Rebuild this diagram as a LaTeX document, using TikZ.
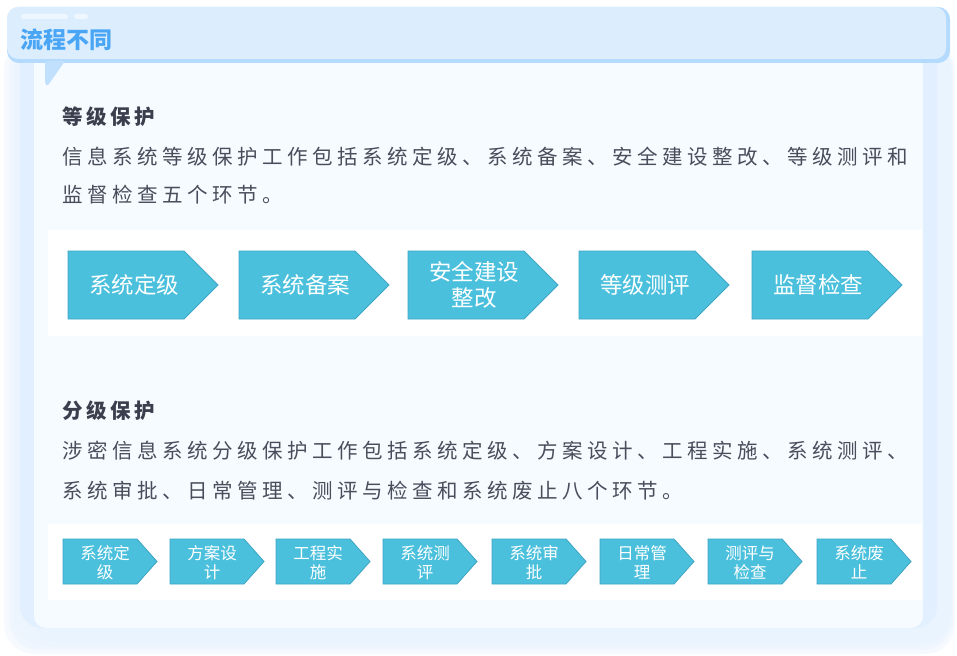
\documentclass[tikz,border=0pt]{standalone}
\usepackage{fontspec}
\newfontfamily\cjk{Noto Sans CJK SC}
\definecolor{hdr}{HTML}{DCEEFE}
\definecolor{hdrb}{HTML}{B4DBFE}
\definecolor{pill}{HTML}{EEF6FF}
\definecolor{ttl}{HTML}{4AA6F5}
\definecolor{tailc}{HTML}{C0E0FD}
\definecolor{pale}{HTML}{F5FBFF}
\definecolor{band}{HTML}{E2EFFE}
\definecolor{layb}{HTML}{EAF4FF}
\definecolor{shad}{HTML}{E6F1FE}
\definecolor{headc}{HTML}{3B3E4D}
\definecolor{bodyc}{HTML}{4A4D5B}
\definecolor{arrf}{HTML}{4BC0DD}
\definecolor{arrd}{HTML}{3FA6C4}
\newlength\pitchw
\def\pitchloop#1{\ifx#1\relax\else\makebox[\pitchw][l]{#1}\expandafter\pitchloop\fi}
\newcommand\pitched[2]{\setlength\pitchw{#1}\pitchloop#2\relax}
\tikzset{
  arrshape/.style={fill=arrf, draw=arrd, line width=0.8pt},
  txtA/.style={text=white, inner sep=0, align=center, font=\cjk\fontsize{22.5}{26}\selectfont},
  txtB/.style={text=white, inner sep=0, align=center, font=\cjk\fontsize{16.5}{19}\selectfont},
  headtxt/.style={anchor=base west, inner sep=0, text=headc, font=\cjk\bfseries\fontsize{20.5}{24}\selectfont},
  bodytxt/.style={anchor=base west, inner sep=0, text=bodyc, font=\cjk\fontsize{20.5}{24}\selectfont},
  shadlayer/.style={fill=shad, opacity=0.35, rounded corners=30},
}
\newcommand\arrowA[3]{%
  \draw[arrshape] (#2,251) -- ({#2+116},251) -- ({#2+150},285) -- ({#2+116},319) -- (#2,319) -- cycle;
  \node[txtA] (#1) at ({#2+66},285) {#3};}
\newcommand\arrowB[4]{%
  \draw[arrshape] (#2,539) -- ({#2+74},539) -- ({#2+94},561.5) -- ({#2+74},584) -- (#2,584) -- cycle;
  \node[txtB] (#1) at ({#2+42},562.5) {#3\\#4};}
\begin{document}
\begin{tikzpicture}[x=1pt,y=-1pt]
\useasboundingbox (0,0) rectangle (957,655);
\fill[white] (0,0) rectangle (957,655);
% soft shadow and layered cards
\fill[shadlayer] (4,40) rectangle (955,654);
\fill[shadlayer] (9,40) rectangle (953,650);
\fill[shadlayer] (14,40) rectangle (951,646);
\fill[layb, rounded corners=24] (34,45) rectangle (951,642);
\fill[band, rounded corners=22] (20,45) rectangle (937,628);
\fill[pale, rounded corners=12] (34,40) rectangle (923,628);
% white strips
\fill[white] (48,230) rectangle (922,336);
\fill[white] (48,524) rectangle (922,600);
% header
\fill[hdrb, rounded corners=12] (7,7) rectangle (950,63);
\fill[hdr, rounded corners=11] (7,7) rectangle (946,59);
\fill[pill, rounded corners=2.5] (21,14) rectangle (68,19);
\fill[pill, rounded corners=2.5] (74,14) rectangle (88,19);
\fill[tailc, rounded corners=2] (45,61) -- (65,61) -- (47.5,86) -- (45,84) -- cycle;
\node[anchor=base west, inner sep=0, text=ttl, font=\cjk\bfseries\fontsize{23}{27}\selectfont] (title) at (20,48.7) {流程不同};
% section 1
\node[headtxt] (h1) at (62,124.8) {\pitched{24pt}{等级保护}};
\node[bodytxt] (b1a) at (62,164.8) {\pitched{25pt}{信息系统等级保护工作包括系统定级、系统备案、安全建设整改、等级测评和}};
\node[bodytxt] (b1b) at (62,202.8) {\pitched{25pt}{监督检查五个环节。}};
\arrowA{a1}{68}{系统定级}
\arrowA{a2}{239}{系统备案}
\arrowA{a3}{408}{安全建设\\整改}
\arrowA{a4}{579}{等级测评}
\arrowA{a5}{752}{监督检查}
% section 2
\node[headtxt] (h2) at (62,418.8) {\pitched{24pt}{分级保护}};
\node[bodytxt] (b2a) at (62,458.8) {\pitched{25pt}{涉密信息系统分级保护工作包括系统定级、方案设计、工程实施、系统测评、}};
\node[bodytxt] (b2b) at (62,498.8) {\pitched{25pt}{系统审批、日常管理、测评与检查和系统废止八个环节。}};
\arrowB{c1}{63}{系统定}{级}
\arrowB{c2}{170}{方案设}{计}
\arrowB{c3}{276}{工程实}{施}
\arrowB{c4}{383}{系统测}{评}
\arrowB{c5}{492}{系统审}{批}
\arrowB{c6}{600}{日常管}{理}
\arrowB{c7}{708}{测评与}{检查}
\arrowB{c8}{817}{系统废}{止}
\end{tikzpicture}
\end{document}
